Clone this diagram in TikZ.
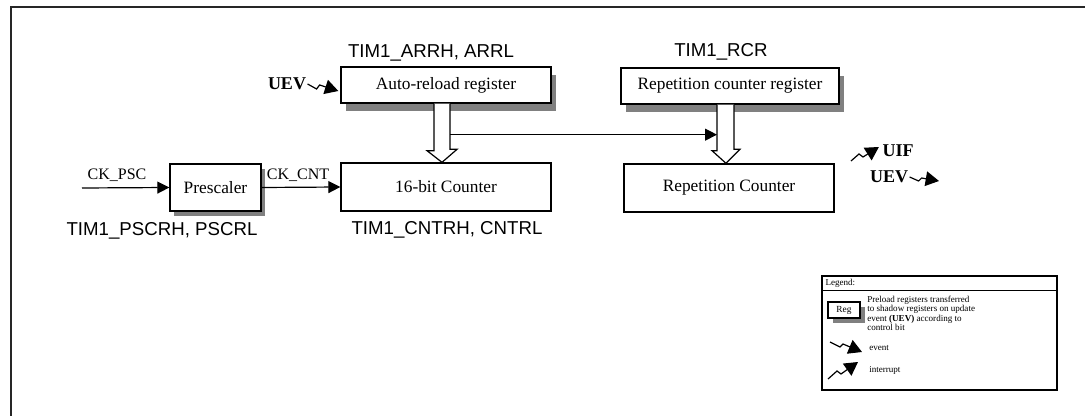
\documentclass[tikz,border=0pt]{standalone}
\usepackage{fontspec}
\setmainfont{Liberation Serif}
\newfontfamily\arialfont{Liberation Sans}
\usetikzlibrary{calc,arrows.meta,shadows}

\begin{document}
\begin{tikzpicture}[
  x=0.75pt, y=-0.75pt,
  font=\fontsize{13}{15}\selectfont,
  block/.style={draw, line width=1pt, fill=white, minimum width=157.5pt, minimum height=36pt, inner sep=0pt},
  shadowed/.style={drop shadow={shadow xshift=3.75pt, shadow yshift=-6pt, fill=black!50, opacity=1}},
  regname/.style={font=\arialfont\fontsize{14}{16}\selectfont, inner sep=1pt},
  signal/.style={font=\fontsize{12}{14}\selectfont, inner sep=1pt},
  evname/.style={font=\bfseries\fontsize{13.5}{15}\selectfont, inner sep=1pt},
  flow/.style={-{Triangle[length=9pt, width=9pt]}, line width=0.9pt},
  bolt/.style={-{Triangle[length=10pt, width=11pt]}, line width=0.9pt},
  hollow/.style={draw, fill=white, line width=0.9pt},
  legtext/.style={font=\fontsize{6.8}{6.9}\selectfont, inner sep=0pt, align=left},
]
  \useasboundingbox (0,0) rectangle (1085,416);

  % Outer frame (cut by the page)
  \draw[line width=1.3pt, black!85] (11,416) -- (11,7) -- (1085,7);

  % Preload registers
  \node[block, shadowed, minimum height=27pt] (arr) at (446,85) {Auto-reload register};
  \node[regname] (arrname) at (431,53) {TIM1\_ARRH, ARRL};
  \node[block, shadowed, minimum width=163.5pt, minimum height=27pt] (rcr) at (730,86) {Repetition counter register};
  \node[regname] (rcrname) at (721,52) {TIM1\_RCR};

  % Counting chain
  \node[block, minimum width=68.25pt, minimum height=35.25pt,
        drop shadow={shadow xshift=3pt, shadow yshift=-3.75pt, fill=black!50, opacity=1}] (psc) at (215.5,187.5) {Prescaler};
  \node[regname] (pscname) at (162,231) {TIM1\_PSCRH, PSCRL};
  \node[block] (cnt) at (446,187) {16-bit Counter};
  \node[regname] (cntname) at (447,230) {TIM1\_CNTRH, CNTRL};
  \node[block] (rep) at (729,188) {Repetition Counter};

  % Clock inputs
  \coordinate (ckin) at (82,188);
  \node[signal] (ckpsc) at (117,175) {CK\_PSC};
  \node[signal] (ckcnt) at (298,175) {CK\_CNT};
  \draw[flow] (ckin) -- (psc.west);
  \draw[flow] (psc.east) -- (cnt.west);

  % Preload transfers
  \draw[hollow] ($(arr.south)+(-12,0)$) -- ++(0,47) -- ++(-7,0) -- ($(cnt.north)+(-4,0)$)
    -- ++(15,-13) -- ++(-7,0) -- ($(arr.south)+(4,0)$);
  \coordinate (rcrl) at ($(rcr.south)+(-13,0)$);
  \draw[hollow] (rcrl) -- ++(0,46) -- ++(-5,0) -- ($(rep.north)+(-3,0)$)
    -- ++(14,-14) -- ++(-6,0) -- ($(rcr.south)+(4,0)$);
  \coordinate (tap) at ($(arr.south)+(4,31)$);
  \draw[flow] (tap) -- (tap -| rcrl);

  % Update events
  \node[evname] (uevin) at (287,84) {UEV};
  \draw[bolt] (uevin.east) -- ++(9,5) -- ++(3,-4) -- ($(arr.west)+(-2,6)$);
  \node[evname] (uif) at (898,151) {UIF};
  \coordinate (uifs) at (851,161);
  \draw[bolt] (uifs) -- ++(8,-7) -- ++(4,3) -- ($(uif.west)+(-2,-4)$);
  \node[evname] (uevout) at (889,177) {UEV};
  \coordinate (uevend) at (939,181);
  \draw[bolt] (uevout.east) -- ++(9,4) -- ++(3,-3) -- (uevend);

  % Legend
  \node[draw, line width=1.1pt, minimum width=176.25pt, minimum height=85.5pt, inner sep=0pt] (legend) at (939.5,333) {};
  \draw[line width=0.8pt] ($(legend.north west)+(0,15)$) -- ($(legend.north east)+(0,15)$);
  \node[legtext, anchor=west] (legtitle) at ($(legend.north west)+(4,8)$) {Legend:};
  \node[draw, line width=1.4pt, fill=white, minimum width=24pt, minimum height=12pt, inner sep=0pt,
        font=\fontsize{7}{8}\selectfont,
        drop shadow={shadow xshift=3.75pt, shadow yshift=-3.75pt, fill=black!50, opacity=1}] (reg) at (844,310) {Reg};
  \node[legtext, anchor=north west] (regtext) at (867,296) {Preload registers transferred\\to shadow registers on update\\event \textbf{(UEV)} according to\\control bit};
  \node[legtext, anchor=west] (levt) at (869,348) {event};
  \coordinate (levs) at (830,342);
  \draw[bolt] (levs) -- ++(10,5) -- ++(3,-3) -- ($(levt.west)+(-7,4)$);
  \node[legtext, anchor=west] (lint) at (869,370) {interrupt};
  \coordinate (lins) at (828,379);
  \draw[bolt] (lins) -- ++(9,-8) -- ++(4,3) -- ($(lint.west)+(-11,-8)$);
\end{tikzpicture}
\end{document}
